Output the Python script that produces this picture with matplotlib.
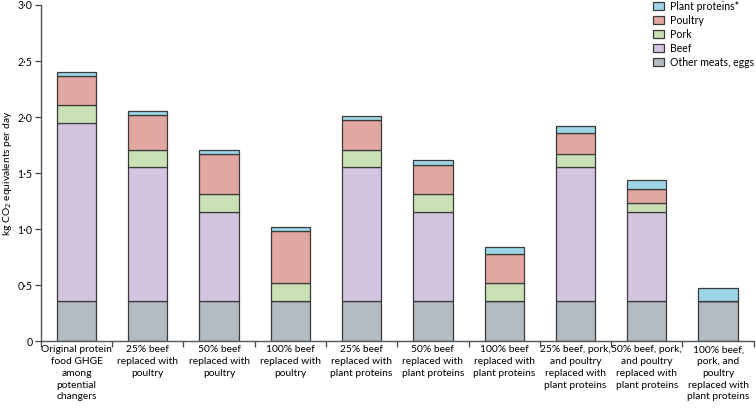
import matplotlib
matplotlib.use('Agg')
import matplotlib.pyplot as plt
import numpy as np

plt.rcParams['font.family'] = ['Lato', 'DejaVu Sans']

categories = [
    'Original protein\nfood GHGE\namong\npotential\nchangers',
    '25% beef\nreplaced with\npoultry',
    '50% beef\nreplaced with\npoultry',
    '100% beef\nreplaced with\npoultry',
    '25% beef\nreplaced with\nplant proteins',
    '50% beef\nreplaced with\nplant proteins',
    '100% beef\nreplaced with\nplant proteins',
    '25% beef, pork,\nand poultry\nreplaced with\nplant proteins',
    '50% beef, pork,\nand poultry\nreplaced with\nplant proteins',
    '100% beef,\npork, and\npoultry\nreplaced with\nplant proteins',
]

other = [0.36, 0.36, 0.36, 0.36, 0.36, 0.36, 0.36, 0.36, 0.36, 0.36]
beef = [1.59, 1.19, 0.79, 0.0, 1.19, 0.79, 0.0, 1.19, 0.79, 0.0]
pork = [0.16, 0.16, 0.16, 0.16, 0.16, 0.16, 0.16, 0.12, 0.08, 0.0]
poultry = [0.26, 0.31, 0.36, 0.46, 0.26, 0.26, 0.26, 0.19, 0.13, 0.0]
plant = [0.03, 0.03, 0.035, 0.04, 0.04, 0.05, 0.06, 0.06, 0.08, 0.115]

yticks = [0, 0.5, 1.0, 1.5, 2.0, 2.5, 3.0]
ytick_labels = ['0', '0·5', '1·0', '1·5', '2·0', '2·5', '3·0']

series = [
    ('Other meats, eggs', other, '#b3bbc1'),
    ('Beef', beef, '#d3c4e0'),
    ('Pork', pork, '#cae0b5'),
    ('Poultry', poultry, '#e2a7a0'),
    ('Plant proteins*', plant, '#9dd6e7'),
]

fig = plt.figure(figsize=(7.56, 4.15), dpi=100)
ax = fig.add_axes([0.054, 0.178, 0.943, 0.81])

x = np.arange(len(categories))
bottom = np.zeros(len(categories))
handles = []
for name, vals, col in series:
    vals = np.array(vals)
    b = ax.bar(x, vals, width=0.55, bottom=bottom, color=col,
               edgecolor='#3a3a3a', linewidth=0.9, label=name)
    handles.append(b)
    bottom += vals

ax.set_xlim(-0.5, 9.5)
ax.set_ylim(0, 3.0)
ax.set_yticks(yticks)
ax.set_yticklabels(ytick_labels)
ax.set_xticks(x)
ax.set_xticklabels(categories, fontsize=7.4, linespacing=1.4)
ax.set_xticks(np.arange(-0.5, 10, 1), minor=True)
ax.tick_params(axis='x', which='major', length=0, pad=3)
ax.tick_params(axis='x', which='minor', length=4, width=0.9, color='#444444')
ax.tick_params(axis='y', length=4, width=0.9, color='#444444', labelsize=7.6, pad=2)
ax.set_ylabel('kg CO$_2$ equivalents per day', fontsize=7.4)
ax.yaxis.set_label_coords(-0.037, 0.5)

for s in ['top', 'right']:
    ax.spines[s].set_visible(False)
for s in ['left', 'bottom']:
    ax.spines[s].set_color('#555555')
    ax.spines[s].set_linewidth(1.0)

ax.legend(handles[::-1], [s[0] for s in series][::-1], loc='upper right',
          bbox_to_anchor=(1.006, 1.025), frameon=False, fontsize=7.6,
          handlelength=1.1, handleheight=0.8, handletextpad=0.5,
          labelspacing=0.28, borderaxespad=0)

fig.savefig('out.png', dpi=100)
